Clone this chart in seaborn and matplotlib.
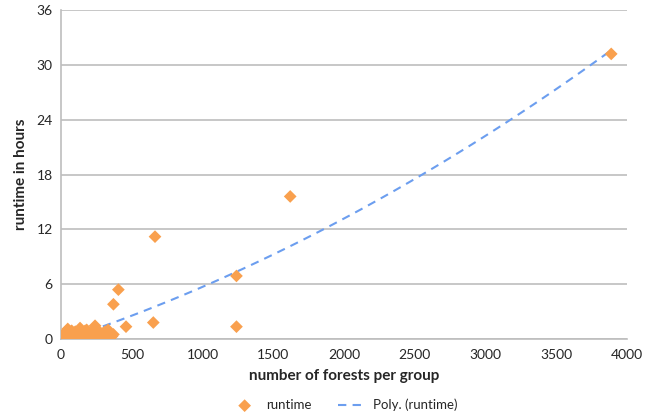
import numpy as np
import pandas as pd
import seaborn as sns
import matplotlib.pyplot as plt

# dense group of small jobs near the origin plus the few big ones
forests = [3, 8, 12, 15, 20, 25, 30, 35, 40, 45, 47, 52, 58, 63, 70, 75, 80, 88,
           95, 100, 108, 115, 122, 128, 134, 140, 148, 155, 162, 170, 176, 181,
           190, 198, 205, 212, 220, 228, 235, 240, 248, 255, 264, 270, 278, 285,
           292, 300, 310, 318, 325, 332, 340, 350, 360, 370,
           370, 405, 459, 652, 664, 1240, 1240, 1620, 3890]
hours = [0.05, 0.1, 0.3, 0.15, 0.5, 0.2, 0.7, 0.4, 0.9, 0.3, 1.1, 0.6, 0.2, 0.8,
         0.4, 0.9, 0.3, 0.6, 0.2, 0.8, 0.5, 0.3, 0.7, 0.4, 1.2, 0.2, 0.6, 0.3,
         0.5, 0.9, 0.2, 1.0, 0.4, 0.7, 0.3, 0.5, 0.8, 0.2, 0.6, 1.45, 0.4, 0.7,
         0.9, 0.3, 0.5, 0.2, 0.6, 0.4, 0.8, 0.3, 0.5, 1.0, 0.2, 0.4, 0.3, 0.5,
         3.8, 5.4, 1.35, 1.8, 11.2, 6.9, 1.35, 15.6, 31.2]

df = pd.DataFrame({'forests': forests, 'hours': hours})

orange = '#F9A04E'
blue = '#6C9EEF'

sns.set_style('white')
plt.rcParams['font.family'] = ['Lato', 'DejaVu Sans']

fig = plt.figure(figsize=(6.57, 4.18), dpi=100)
ax = fig.add_axes([0.093, 0.189, 0.861, 0.787])

# order 2 trendline, like the spreadsheet's "Poly." trend
sns.regplot(data=df, x='forests', y='hours', order=2, ci=None, scatter=False,
            ax=ax, label='Poly. (runtime)',
            line_kws=dict(color=blue, lw=1.5, ls=(0, (4, 3))))
sns.scatterplot(data=df, x='forests', y='hours', marker='D', s=42, color=orange,
                edgecolor='none', ax=ax, label='runtime', zorder=3)

ax.set_xlim(0, 4000)
ax.set_ylim(0, 36)
ax.set_xticks(np.arange(0, 4001, 500))
ax.set_yticks(np.arange(0, 37, 6))
ax.grid(axis='y', color='#BEBEBE', lw=1.2)
ax.set_axisbelow(True)
for s in ['top', 'right']:
    ax.spines[s].set_visible(False)
for s in ['left', 'bottom']:
    ax.spines[s].set_color('#BEBEBE')
    ax.spines[s].set_linewidth(1.2)
ax.tick_params(axis='x', length=4, color='#BEBEBE', labelsize=10, pad=3)
ax.tick_params(axis='y', length=0, labelsize=10, pad=6)

ax.set_xlabel('number of forests per group', fontsize=11, fontweight='bold', labelpad=6)
ax.set_ylabel('runtime in hours', fontsize=11, fontweight='bold', labelpad=6)

handles, labels = ax.get_legend_handles_labels()
order = [labels.index('runtime'), labels.index('Poly. (runtime)')]
ax.legend([handles[i] for i in order], [labels[i] for i in order],
          loc='upper center', bbox_to_anchor=(0.5, -0.145), ncol=2,
          frameon=False, fontsize=9.5, columnspacing=2.0, handlelength=2.2,
          handletextpad=0.5)

plt.savefig('out.png', dpi=100)
